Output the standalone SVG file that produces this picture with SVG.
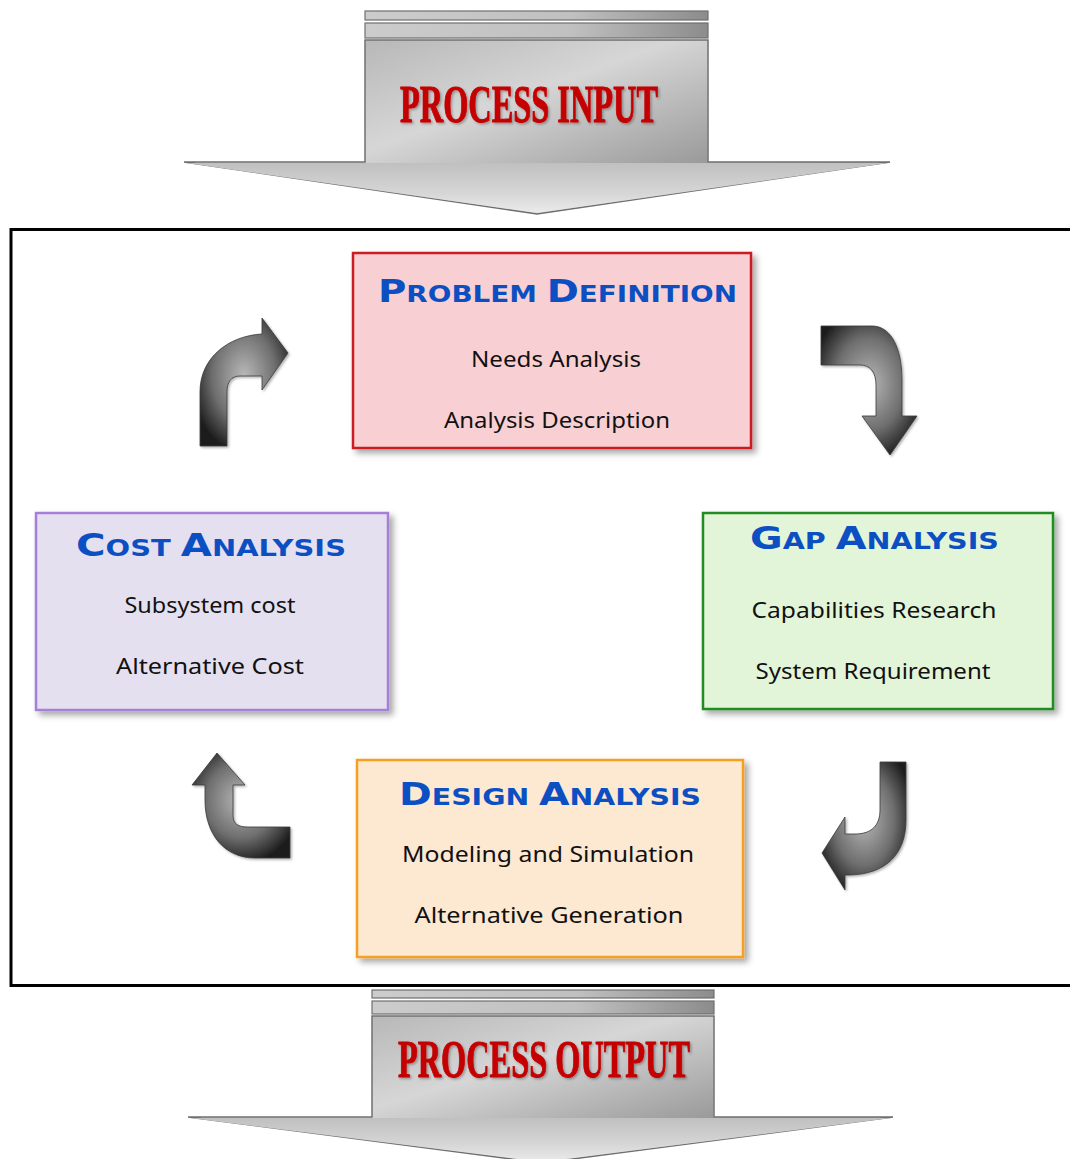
<svg xmlns="http://www.w3.org/2000/svg" width="1070" height="1159" viewBox="0 0 1070 1159">
<defs>
<linearGradient id="gShaft" x1="0" y1="0" x2="1" y2="1">
<stop offset="0" stop-color="#b8b8b8"/>
<stop offset="0.45" stop-color="#d6d6d6"/>
<stop offset="1" stop-color="#9a9a9a"/>
</linearGradient>
<linearGradient id="gHead" x1="0" y1="0" x2="0" y2="1">
<stop offset="0" stop-color="#c0c0c0"/>
<stop offset="0.6" stop-color="#d6d6d6"/>
<stop offset="1" stop-color="#ebebeb"/>
</linearGradient>
<linearGradient id="gBar" x1="0" y1="0" x2="1" y2="0">
<stop offset="0" stop-color="#cccccc"/>
<stop offset="0.6" stop-color="#c0c0c0"/>
<stop offset="1" stop-color="#8c8c8c"/>
</linearGradient>
<radialGradient id="gCurve" cx="0.5" cy="0.45" r="0.6">
<stop offset="0" stop-color="#b8b8b8"/>
<stop offset="0.6" stop-color="#6e6e6e"/>
<stop offset="1" stop-color="#1e1e1e"/>
</radialGradient>
<filter id="sh" x="-10%" y="-10%" width="125%" height="125%">
<feDropShadow dx="4" dy="4" stdDeviation="3" flood-color="#000" flood-opacity="0.35"/>
</filter>
<filter id="tsh" x="-5%" y="-5%" width="110%" height="120%">
<feDropShadow dx="1.5" dy="1.5" stdDeviation="1" flood-color="#000" flood-opacity="0.3"/>
</filter>
</defs>
<style>
.big{font-family:"Liberation Serif",serif;font-weight:bold;fill:#c40000;stroke:#c40000;stroke-width:1;font-size:52px}
.ttl{font-family:"DejaVu Sans",sans-serif;font-weight:bold;fill:#0c4fc2}
.ttl .c{font-size:32px}
.ttl .s{font-size:23px}
.body{font-family:"Noto Sans",sans-serif;font-size:22px;fill:#111;text-anchor:middle}
.bar{fill:url(#gBar);stroke:#6f6f6f;stroke-width:1.2}
.shaft{fill:url(#gShaft);stroke:#6f6f6f;stroke-width:1.5}
.curve{fill:url(#gCurve);stroke:#3a3a3a;stroke-width:0.8}
</style>
<rect width="1070" height="1159" fill="#fff"/>

<g id="process-input">
<rect class="bar" x="365" y="11" width="343" height="9"/>
<rect class="bar" x="365" y="23" width="343" height="15"/>
<path class="shaft" d="M365,40 L708,40 L708,162 L890,162 L537,214 L184,162 L365,162 Z"/>
<path d="M186,163 L888,163 L537,213 Z" fill="url(#gHead)"/>
<rect x="366" y="41" width="341" height="122" fill="url(#gShaft)"/>
<text class="big" x="400" y="122" textLength="258" lengthAdjust="spacingAndGlyphs" filter="url(#tsh)">PROCESS INPUT</text>
</g>

<g id="frame">
<path d="M1070,229.5 L11,229.5 L11,985.5 L1070,985.5" fill="none" stroke="#000" stroke-width="3"/>
</g>

<g id="process-output">
<rect class="bar" x="372" y="990" width="342" height="8"/>
<rect class="bar" x="372" y="1001" width="342" height="13"/>
<path class="shaft" d="M372,1016 L714,1016 L714,1117 L893,1117 L542,1163 L188,1117 L372,1117 Z"/>
<path d="M190,1118 L891,1118 L542,1162 Z" fill="url(#gHead)"/>
<rect x="373" y="1017" width="340" height="101" fill="url(#gShaft)"/>
<text class="big" x="398" y="1077" textLength="292" lengthAdjust="spacingAndGlyphs" filter="url(#tsh)">PROCESS OUTPUT</text>
</g>

<g id="problem-definition">
<rect x="353" y="253" width="398" height="195" fill="#f8d0d4" stroke="#cc1c24" stroke-width="2.5" filter="url(#sh)"/>
<text class="ttl" x="378" y="302" textLength="359" lengthAdjust="spacingAndGlyphs"><tspan class="c">P</tspan><tspan class="s">ROBLEM </tspan><tspan class="c">D</tspan><tspan class="s">EFINITION</tspan></text>
<text class="body" x="556" y="367" textLength="170" lengthAdjust="spacingAndGlyphs">Needs Analysis</text>
<text class="body" x="557" y="428" textLength="226" lengthAdjust="spacingAndGlyphs">Analysis Description</text>
</g>

<g id="gap-analysis">
<rect x="703" y="513" width="350" height="196" fill="#e3f5d9" stroke="#208c22" stroke-width="2.5" filter="url(#sh)"/>
<text class="ttl" x="750" y="549" textLength="249" lengthAdjust="spacingAndGlyphs"><tspan class="c">G</tspan><tspan class="s">AP </tspan><tspan class="c">A</tspan><tspan class="s">NALYSIS</tspan></text>
<text class="body" x="874" y="618" textLength="245" lengthAdjust="spacingAndGlyphs">Capabilities Research</text>
<text class="body" x="873" y="679" textLength="235" lengthAdjust="spacingAndGlyphs">System Requirement</text>
</g>

<g id="cost-analysis">
<rect x="36" y="513" width="352" height="197" fill="#e4e0ef" stroke="#a57fd8" stroke-width="2.5" filter="url(#sh)"/>
<text class="ttl" x="76" y="556" textLength="270" lengthAdjust="spacingAndGlyphs"><tspan class="c">C</tspan><tspan class="s">OST </tspan><tspan class="c">A</tspan><tspan class="s">NALYSIS</tspan></text>
<text class="body" x="210" y="613" textLength="171" lengthAdjust="spacingAndGlyphs">Subsystem cost</text>
<text class="body" x="210" y="674" textLength="188" lengthAdjust="spacingAndGlyphs">Alternative Cost</text>
</g>

<g id="design-analysis">
<rect x="357" y="760" width="386" height="197" fill="#fde8d2" stroke="#f5a020" stroke-width="2.5" filter="url(#sh)"/>
<text class="ttl" x="399" y="805" textLength="302" lengthAdjust="spacingAndGlyphs"><tspan class="c">D</tspan><tspan class="s">ESIGN </tspan><tspan class="c">A</tspan><tspan class="s">NALYSIS</tspan></text>
<text class="body" x="548" y="862" textLength="292" lengthAdjust="spacingAndGlyphs">Modeling and Simulation</text>
<text class="body" x="549" y="923" textLength="269" lengthAdjust="spacingAndGlyphs">Alternative Generation</text>
</g>

<g id="connectors">
<path class="curve" filter="url(#tsh)" d="M200,446 L200,392 C200,358 228,336 262,334 L262,318 L288,353 L262,390 L262,376 L240,376 C231,376 227,382 227,392 L227,446 Z"/>
<path class="curve" filter="url(#tsh)" d="M821,326 L872,326 C892,326 902,350 902,380 L902,416 L917,416 L890,455 L862,416 L876,416 L876,385 C876,372 870,365 860,365 L821,365 Z"/>
<path class="curve" filter="url(#tsh)" d="M880,762 L906,762 L906,820 C906,855 885,874 850,875 L845,875 L845,890 L822,853 L845,817 L845,834 L855,834 C872,834 880,825 880,810 Z"/>
<path class="curve" filter="url(#tsh)" d="M217,753 L245,785 L233,785 L233,815 C233,824 238,827 248,827 L290,827 L290,858 L255,858 C225,858 205,835 205,800 L205,785 L192,785 Z"/>
</g>
</svg>
